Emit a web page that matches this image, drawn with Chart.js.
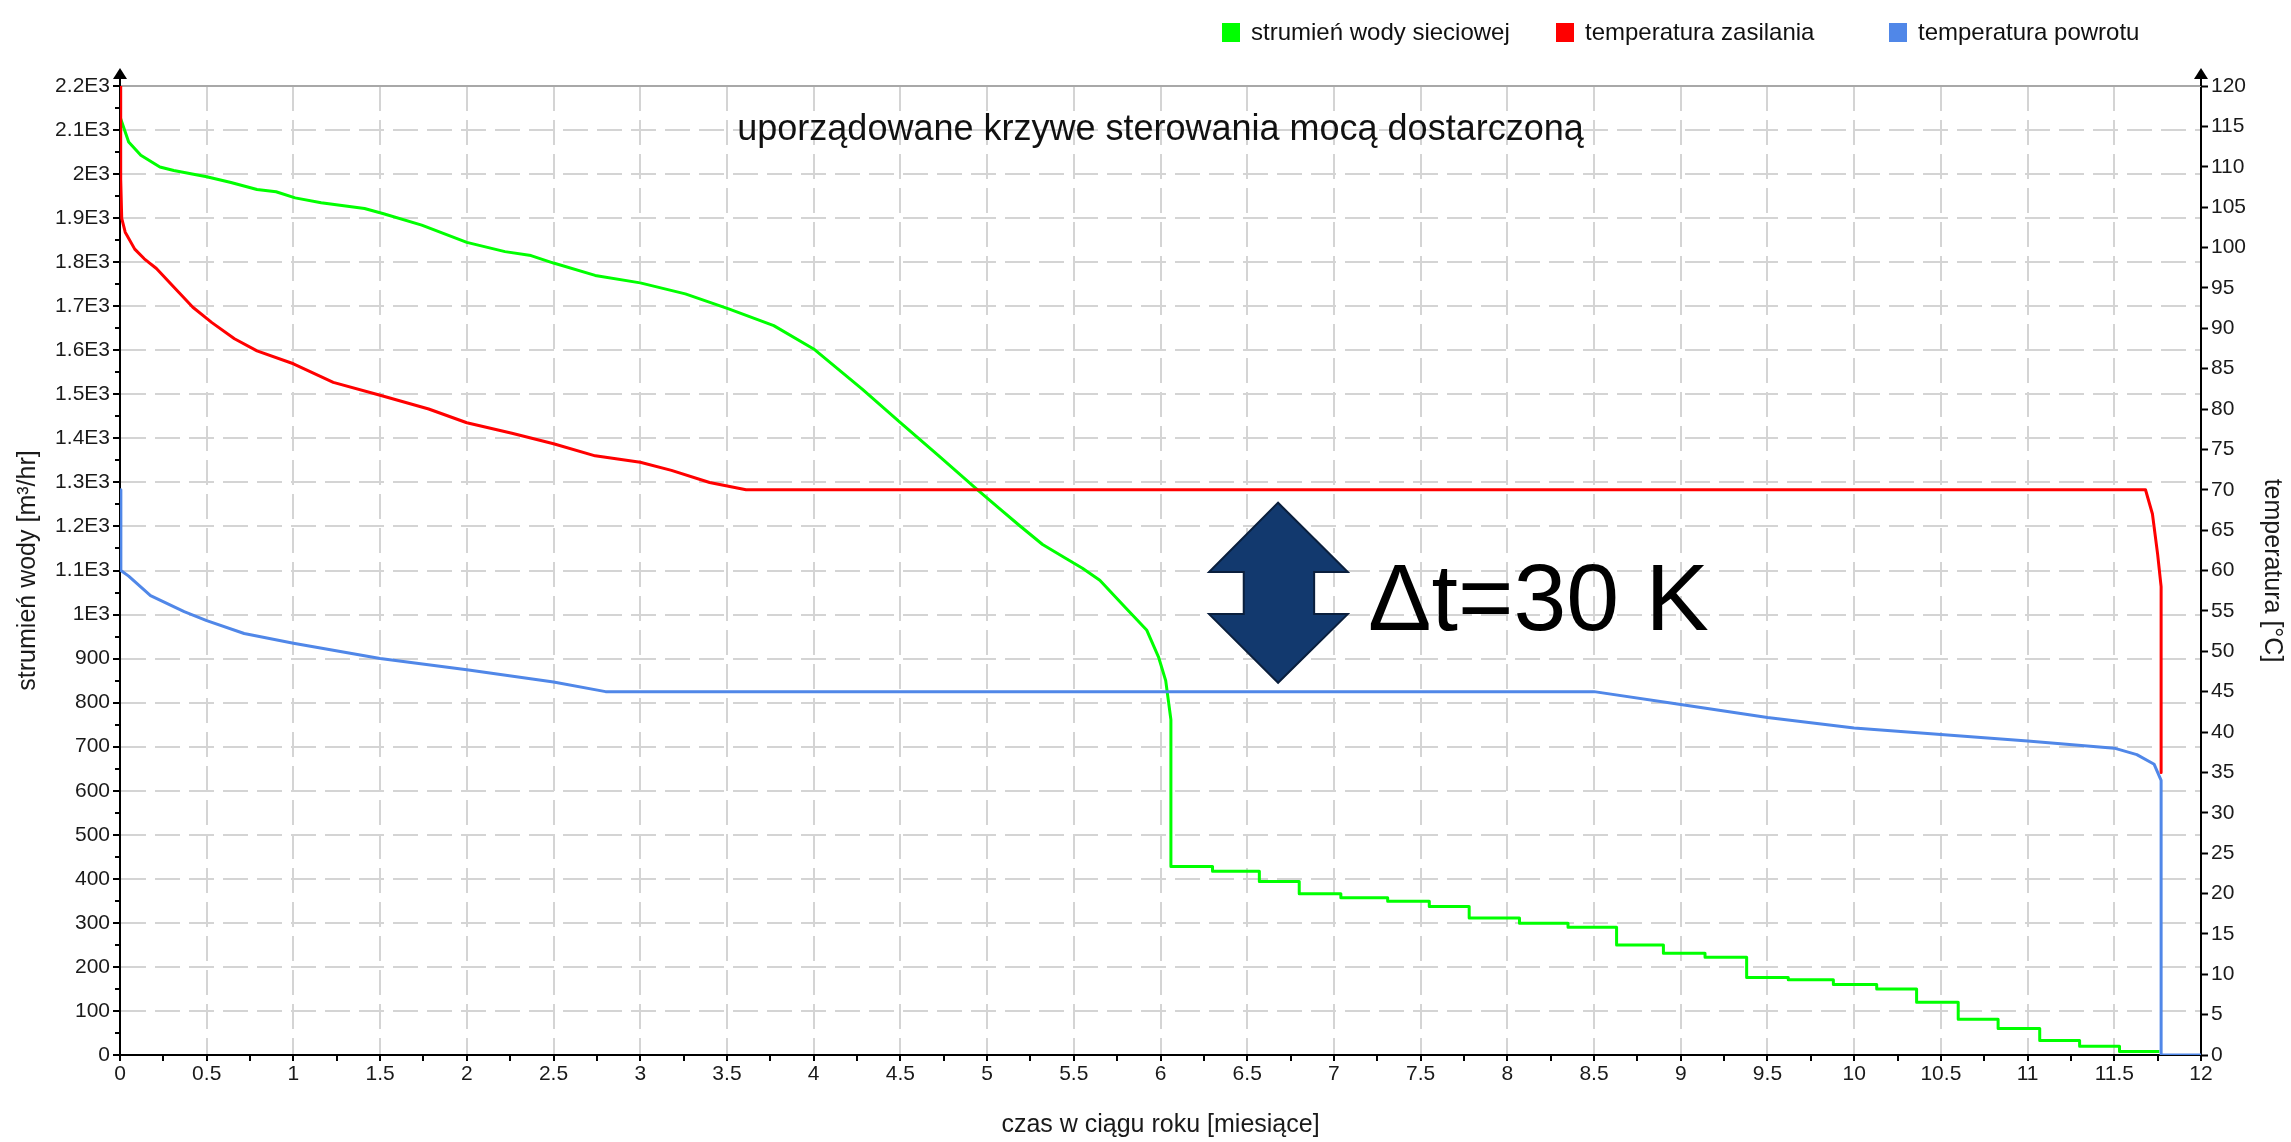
<!DOCTYPE html>
<html>
<head>
<meta charset="utf-8">
<script src="https://cdn.jsdelivr.net/npm/chart.js@4.4.1/dist/chart.umd.min.js"></script>
<style>
  body { margin: 0; background: #fff; }
  #wrap { width: 2291px; height: 1142px; }
</style>
</head>
<body>
<div id="wrap"><canvas id="chart" width="2291" height="1142"></canvas></div>
<script>
// strumień wody sieciowej - smooth part [months], [m3/hr]
const flowMonths = [0, 0.05, 0.12, 0.23, 0.31, 0.5, 0.64, 0.79, 0.9, 1.01, 1.16, 1.41, 1.52, 1.74, 2.0, 2.22,
  2.37, 2.5, 2.74, 3.0, 3.26, 3.51, 3.77, 4.0, 4.28, 4.5, 4.72, 4.94, 5.07, 5.19, 5.32, 5.46, 5.55, 5.65,
  5.8, 5.92, 5.99, 6.03, 6.06, 6.06];
const flowValues = [2130, 2073, 2043, 2016, 2008, 1994, 1981, 1965, 1960, 1946, 1935, 1922, 1910, 1884, 1845, 1824,
  1815, 1798, 1770, 1753, 1728, 1694, 1656, 1603, 1512, 1436, 1361, 1285, 1241, 1201, 1159, 1126, 1105, 1078,
  1015, 965, 902, 850, 761, 428];
// strumień wody sieciowej - stepped part (step start month, value)
const stepMonths = [6.06, 6.30, 6.57, 6.80, 7.04, 7.31, 7.55, 7.78, 8.07, 8.35, 8.63, 8.90, 9.14, 9.38, 9.62,
  9.88, 10.13, 10.36, 10.60, 10.83, 11.07, 11.30, 11.53, 11.76];
const stepValues = [428, 417, 394, 366, 357, 349, 337, 311, 299, 290, 250, 231, 222, 176, 171,
  160, 150, 120, 81, 60, 33, 20, 8, 8];

// temperatura zasilania [°C]
const supplyMonths = [0, 0.004, 0.01, 0.03, 0.085, 0.14, 0.21, 0.31, 0.42, 0.53, 0.66, 0.79, 1.0, 1.23, 1.5,
  1.78, 2.0, 2.26, 2.5, 2.74, 3.0, 3.18, 3.4, 3.61, 11.68, 11.72, 11.75, 11.77, 11.77];
const supplyTemps = [120, 108.5, 103.6, 101.9, 99.8, 98.6, 97.4, 95.1, 92.6, 90.7, 88.7, 87.2, 85.6, 83.3, 81.7,
  80.0, 78.3, 77.0, 75.7, 74.2, 73.4, 72.4, 70.9, 70.0, 70.0, 67, 62, 58, 35];

// temperatura powrotu [°C]
const returnMonths = [0, 0.005, 0.05, 0.176, 0.37, 0.5, 0.716, 1.0, 1.5, 2.0, 2.5, 2.8, 8.5, 9.0, 9.5, 10.0,
  10.5, 11.0, 11.5, 11.63, 11.73, 11.77, 11.77, 12];
const returnTemps = [70, 60, 59.3, 56.9, 54.9, 53.8, 52.2, 51.0, 49.1, 47.7, 46.2, 45.0, 45.0, 43.4, 41.8, 40.5,
  39.7, 38.9, 38.0, 37.2, 36.0, 34.0, 0, 0];

const seriesNames = ['strumień wody sieciowej', 'temperatura zasilania', 'temperatura powrotu'];
const seriesColors = ['#00ff00', '#ff0000', '#5087e8'];
const chartTitle = 'uporządowane krzywe sterowania mocą dostarczoną';
const noteText = 'Δt=30 K';
// double arrow outline in (month, °C)
const arrowShape = [[6.678, 68.4], [7.08, 59.8], [6.886, 59.8], [6.886, 54.6], [7.08, 54.6], [6.678, 46.1],
  [6.28, 54.6], [6.48, 54.6], [6.48, 59.8], [6.28, 59.8]];

const zip = (xs, ys) => xs.map((x, i) => ({ x: x, y: ys[i] }));
const FONT = 'Arial, "Liberation Sans", sans-serif';

const decor = {
  id: 'decor',
  beforeDatasetsDraw(chart) {
    const { ctx, chartArea: a } = chart;
    ctx.save();
    ctx.strokeStyle = '#a8a8a8';
    ctx.lineWidth = 2;
    ctx.beginPath();
    ctx.moveTo(a.left, a.top);
    ctx.lineTo(a.right, a.top);
    ctx.stroke();
    ctx.restore();
  },
  afterDatasetsDraw(chart) {
    const { ctx, chartArea: a, scales } = chart;
    const sx = scales.x, sy = scales.y, st = scales.y2;
    ctx.save();

    // minor ticks on left axis
    ctx.strokeStyle = '#000';
    ctx.lineWidth = 2;
    for (let v = 50; v < 2200; v += 100) {
      const py = Math.round(sy.getPixelForValue(v));
      ctx.beginPath();
      ctx.moveTo(a.left - 5, py);
      ctx.lineTo(a.left, py);
      ctx.stroke();
    }

    // axis arrowheads
    [a.left, a.right].forEach(px => {
      ctx.beginPath();
      ctx.moveTo(px, a.top);
      ctx.lineTo(px, a.top - 9);
      ctx.stroke();
      ctx.fillStyle = '#000';
      ctx.beginPath();
      ctx.moveTo(px, a.top - 18);
      ctx.lineTo(px + 7, a.top - 7);
      ctx.lineTo(px - 7, a.top - 7);
      ctx.closePath();
      ctx.fill();
    });

    // title inside the plot
    ctx.fillStyle = '#111';
    ctx.font = '36px ' + FONT;
    ctx.textAlign = 'center';
    ctx.textBaseline = 'middle';
    ctx.fillText(chartTitle, (a.left + a.right) / 2, sy.getPixelForValue(2100));

    // double arrow
    ctx.beginPath();
    arrowShape.forEach((p, i) => {
      const px = sx.getPixelForValue(p[0]);
      const py = st.getPixelForValue(p[1]);
      if (i === 0) ctx.moveTo(px, py); else ctx.lineTo(px, py);
    });
    ctx.closePath();
    ctx.fillStyle = '#12396e';
    ctx.fill();
    ctx.strokeStyle = '#0a1f3d';
    ctx.lineWidth = 2;
    ctx.stroke();

    // Δt note
    ctx.fillStyle = '#000';
    ctx.font = '95px ' + FONT;
    ctx.textAlign = 'left';
    ctx.textBaseline = 'alphabetic';
    ctx.fillText(noteText, sx.getPixelForValue(7.197), st.getPixelForValue(52.6));

    // legend
    const boxX = [1222, 1556, 1889];
    ctx.font = '24px ' + FONT;
    ctx.textBaseline = 'middle';
    seriesNames.forEach((name, i) => {
      ctx.fillStyle = seriesColors[i];
      ctx.fillRect(boxX[i], 23, 18, 19);
      ctx.fillStyle = '#111';
      ctx.fillText(name, boxX[i] + 29, 33);
    });
    ctx.restore();
  }
};

const ctx = document.getElementById('chart').getContext('2d');
new Chart(ctx, {
  type: 'line',
  data: {
    datasets: [
      { label: seriesNames[2], data: zip(returnMonths, returnTemps), yAxisID: 'y2',
        borderColor: seriesColors[2], borderWidth: 3 },
      { label: seriesNames[1], data: zip(supplyMonths, supplyTemps), yAxisID: 'y2',
        borderColor: seriesColors[1], borderWidth: 3 },
      { label: seriesNames[0], data: zip(flowMonths, flowValues), yAxisID: 'y',
        borderColor: seriesColors[0], borderWidth: 3 },
      { label: seriesNames[0], data: zip(stepMonths, stepValues), yAxisID: 'y',
        borderColor: seriesColors[0], borderWidth: 3, stepped: 'before' }
    ]
  },
  options: {
    responsive: false,
    devicePixelRatio: 1,
    animation: false,
    elements: { point: { radius: 0 }, line: { tension: 0, borderJoinStyle: 'round' } },
    layout: { padding: { top: 86, left: 0, right: 0, bottom: 0 } },
    plugins: { legend: { display: false }, tooltip: { enabled: false } },
    scales: {
      x: {
        type: 'linear', min: 0, max: 12,
        afterFit: s => { s.height = 87; },
        ticks: {
          stepSize: 0.25, autoSkip: false, maxRotation: 0, padding: 1,
          color: '#1a1a1a', font: { family: FONT, size: 21 },
          callback: v => (v % 0.5 === 0 ? String(v) : '')
        },
        grid: {
          color: c => (c.tick && c.tick.value % 0.5 === 0 && c.tick.value > 0 && c.tick.value < 12) ? '#d4d4d4' : 'rgba(0,0,0,0)',
          lineWidth: 2, tickColor: '#000', tickLength: 6, tickWidth: 2, tickBorderDash: []
        },
        border: { color: '#000', width: 2, dash: [25, 9] },
        title: {
          display: true, text: 'czas w ciągu roku [miesiące]', color: '#1a1a1a',
          font: { family: FONT, size: 25 }, padding: { top: 0, bottom: 2 }
        }
      },
      y: {
        type: 'linear', position: 'left', min: 0, max: 2200,
        afterFit: s => { s.width = 120; },
        ticks: {
          stepSize: 100, autoSkip: false, padding: 3,
          color: '#1a1a1a', font: { family: FONT, size: 21 },
          callback: v => (v >= 1000 ? (Math.round(v / 100) / 10) + 'E3' : String(v))
        },
        grid: {
          color: c => (c.tick && c.tick.value > 0 && c.tick.value < 2200) ? '#d4d4d4' : 'rgba(0,0,0,0)',
          lineWidth: 2, tickColor: '#000', tickLength: 7, tickWidth: 2, tickBorderDash: []
        },
        border: { color: '#000', width: 2, dash: [25, 9] },
        title: {
          display: true, text: 'strumień wody [m³/hr]', color: '#1a1a1a',
          font: { family: FONT, size: 25 }, padding: { top: 13, bottom: 0 }
        }
      },
      y2: {
        type: 'linear', position: 'right', min: 0, max: 120,
        afterFit: s => { s.width = 90; },
        ticks: {
          stepSize: 5, autoSkip: false, padding: 3,
          color: '#1a1a1a', font: { family: FONT, size: 21 }
        },
        grid: {
          drawOnChartArea: false, tickColor: '#000', tickLength: 7, tickWidth: 2, tickBorderDash: []
        },
        border: { color: '#000', width: 2 },
        title: {
          display: true, text: 'temperatura [°C]', color: '#1a1a1a',
          font: { family: FONT, size: 25 }, padding: { top: 4, bottom: 0 }
        }
      }
    }
  },
  plugins: [decor]
});
</script>
</body>
</html>
